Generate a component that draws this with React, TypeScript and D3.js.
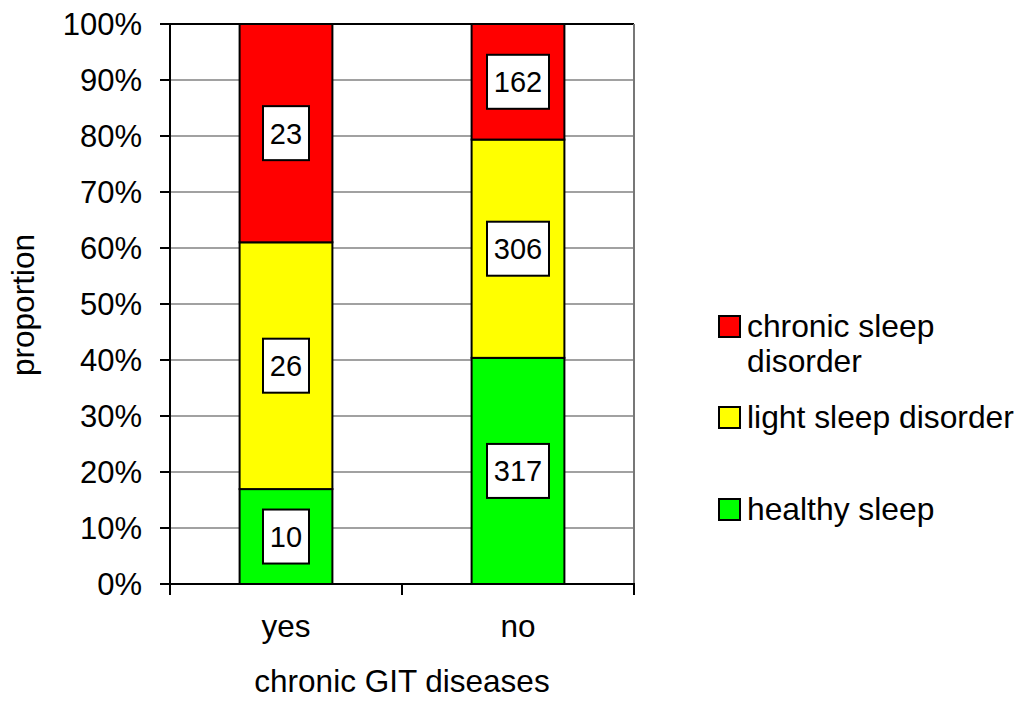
import React from "react";
import * as d3 from "d3";

// Group categories and counts per sleep quality
const groups = ["yes", "no"];
const healthy = [10, 317];
const lightDisorder = [26, 306];
const chronicDisorder = [23, 162];
const yTicks = [0, 10, 20, 30, 40, 50, 60, 70, 80, 90, 100];

const seriesNames = ["healthy sleep", "light sleep disorder", "chronic sleep disorder"];
const seriesColors = ["#00ff00", "#ffff00", "#ff0000"];

const W = 1022;
const H = 702;
const plot = { left: 170, right: 634, top: 24, bottom: 584 };
const FONT = "Arial, 'Liberation Sans', sans-serif";

export default function App() {
  const x = d3.scaleBand<string>().domain(groups).range([plot.left, plot.right]).paddingInner(0.6).paddingOuter(0.3);
  const y = d3.scaleLinear().domain([0, 100]).range([plot.bottom, plot.top]);

  const rows = groups.map((g, i) => ({
    group: g,
    "healthy sleep": healthy[i],
    "light sleep disorder": lightDisorder[i],
    "chronic sleep disorder": chronicDisorder[i],
  }));
  const stacked = d3.stack<any>().keys(seriesNames).offset(d3.stackOffsetExpand)(rows);

  const catEdges = [plot.left, (plot.left + plot.right) / 2, plot.right];

  const legend = [
    { name: "chronic sleep disorder", lines: ["chronic sleep", "disorder"], color: seriesColors[2], y: 316 },
    { name: "light sleep disorder", lines: ["light sleep disorder"], color: seriesColors[1], y: 407 },
    { name: "healthy sleep", lines: ["healthy sleep"], color: seriesColors[0], y: 499 },
  ];

  return (
    <svg width={W} height={H} style={{ position: "absolute", left: 0, top: 0 }} fontFamily={FONT}>
      <rect x={0} y={0} width={W} height={H} fill="#fff" />
      {/* gridlines */}
      {yTicks.map((t) => (
        <line key={"g" + t} x1={plot.left} x2={plot.right} y1={y(t)} y2={y(t)} stroke={t === 100 ? "#000" : "#444"} strokeWidth={t === 100 ? 2 : 1.2} />
      ))}
      <line x1={plot.right} x2={plot.right} y1={plot.top} y2={plot.bottom} stroke="#777" strokeWidth={2} />

      {/* stacked bars */}
      {stacked.map((s, si) =>
        s.map((d, i) => {
          const bx = x(groups[i])!;
          const bw = x.bandwidth();
          const y0 = y(d[0] * 100);
          const y1 = y(d[1] * 100);
          return (
            <rect key={si + "-" + i} x={bx} y={y1} width={bw} height={y0 - y1} fill={seriesColors[si]} stroke="#000" strokeWidth={2} />
          );
        })
      )}

      {/* value labels */}
      {stacked.map((s, si) =>
        s.map((d, i) => {
          const cx = x(groups[i])! + x.bandwidth() / 2;
          const cy = (y(d[0] * 100) + y(d[1] * 100)) / 2;
          const val = String((d.data as any)[seriesNames[si]]);
          const bw = val.length === 3 ? 62 : 46;
          return (
            <g key={"l" + si + "-" + i}>
              <rect x={cx - bw / 2} y={cy - 27} width={bw} height={54} fill="#fff" stroke="#000" strokeWidth={2} />
              <text x={cx} y={cy} dy="0.36em" textAnchor="middle" fontSize={29}>{val}</text>
            </g>
          );
        })
      )}

      {/* axes */}
      <line x1={plot.left} x2={plot.left} y1={plot.top - 1} y2={plot.bottom} stroke="#000" strokeWidth={2} />
      <line x1={plot.left - 1} x2={plot.right + 1} y1={plot.bottom} y2={plot.bottom} stroke="#000" strokeWidth={2} />
      {yTicks.map((t) => (
        <g key={"t" + t}>
          <line x1={plot.left - 10} x2={plot.left} y1={y(t)} y2={y(t)} stroke="#000" strokeWidth={2} />
          <text x={142} y={y(t)} dy="0.36em" textAnchor="end" fontSize={31}>{t + "%"}</text>
        </g>
      ))}
      {catEdges.map((cx, i) => (
        <line key={"xt" + i} x1={cx} x2={cx} y1={plot.bottom} y2={plot.bottom + 11} stroke="#000" strokeWidth={2} />
      ))}
      {groups.map((g) => (
        <text key={g} x={x(g)! + x.bandwidth() / 2} y={637} textAnchor="middle" fontSize={31.5}>{g}</text>
      ))}
      <text x={402} y={692} textAnchor="middle" fontSize={31.5}>chronic GIT diseases</text>
      <text transform="translate(34,305) rotate(-90)" textAnchor="middle" fontSize={31.5}>proportion</text>

      {/* legend */}
      {legend.map((l) => (
        <g key={l.name}>
          <rect x={719} y={l.y} width={21} height={21} fill={l.color} stroke="#000" strokeWidth={2} />
          {l.lines.map((ln, j) => (
            <text key={j} x={747} y={l.y + 21 + j * 35} fontSize={31.8}>{ln}</text>
          ))}
        </g>
      ))}
    </svg>
  );
}
